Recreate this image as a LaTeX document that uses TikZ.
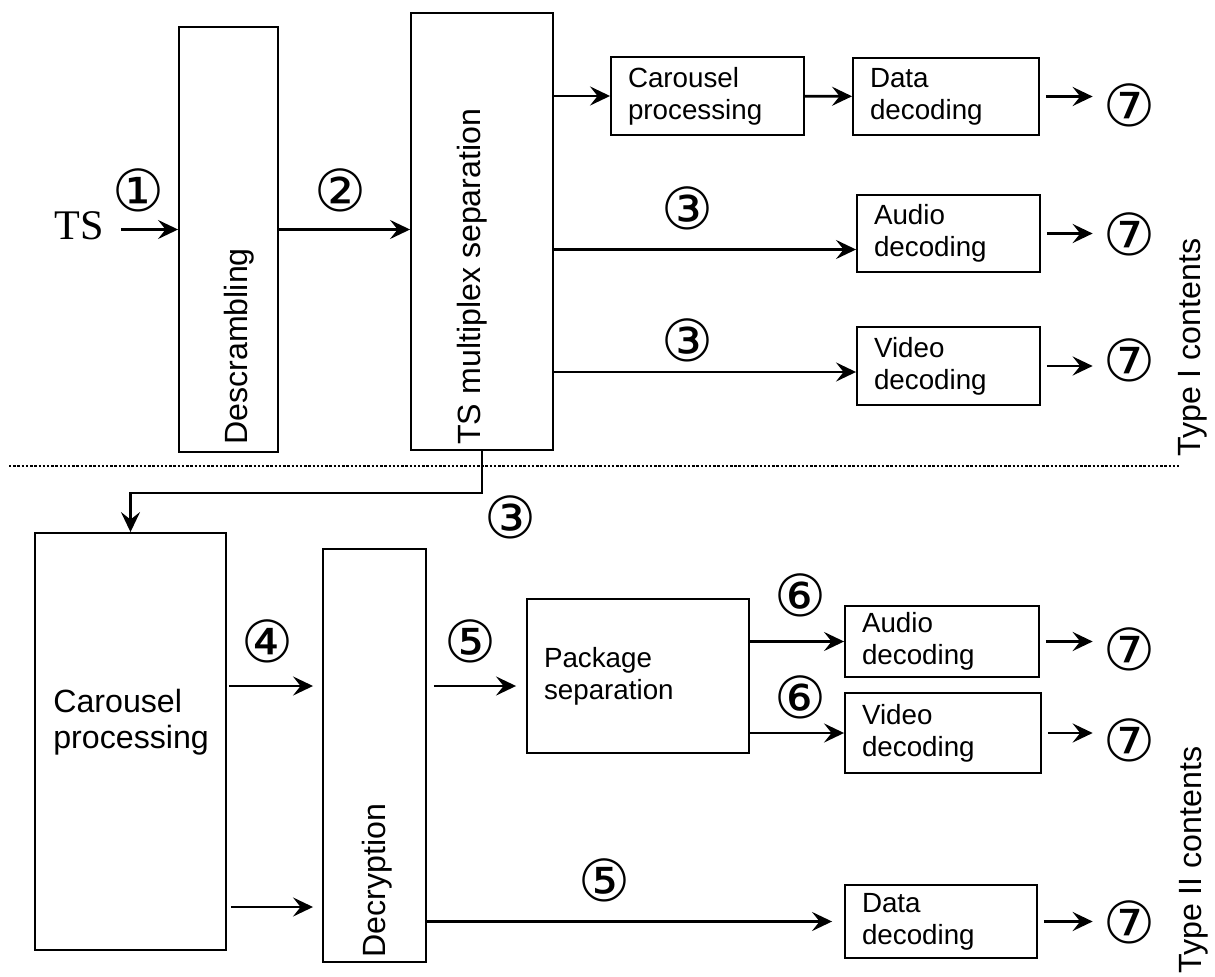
\documentclass[tikz,border=0pt]{standalone}
\usepackage{fontspec}
\setmainfont{Liberation Sans}
\newfontfamily\circfont{DejaVu Sans}
\newfontfamily\serifts{Liberation Serif}
\usetikzlibrary{positioning, arrows.meta, calc}

\begin{document}
\begin{tikzpicture}[
  x=0.02cm, y=-0.02cm,
  >={Stealth[length=4mm, width=3.8mm, inset=1.5mm]},
  dbox/.style={draw, line width=1.1pt, align=left, inner xsep=0.34cm, inner ysep=0pt,
               font=\fontsize{15.8}{18.2}\selectfont},
  tallbox/.style={draw, line width=1.1pt},
  vtext/.style={rotate=90, anchor=base west, inner sep=0pt,
                font=\fontsize{18.3}{20.5}\selectfont},
  num/.style={inner sep=0pt, font=\circfont\fontsize{33}{33}\selectfont},
  arr/.style={->, line width=1.5pt},
  toseven/.style={arr, shorten <=0.12cm, shorten >=0.2cm},
]
\useasboundingbox (0,0) rectangle (1215,977);
% ---- type I: TS input ----
\node[inner sep=0pt, font=\serifts\fontsize{24}{24}\selectfont] (ts) at (79,226) {TS};
\node[tallbox, minimum width=1.98cm, minimum height=8.5cm] (desc) at (228.5,239.5) {};
\node[vtext] (desctxt) at (247,445) {Descrambling};
\node[tallbox, minimum width=2.84cm, minimum height=8.74cm] (tsm) at (482,231.5) {};
\node[vtext] (tsmtxt) at (480,445) {TS multiplex separation};
\node[num] (c1) at (138,190) {①};
\node[num] (c2) at (340,190) {②};
\coordinate (r1) at ($(desc.west)+(0,-10)$);
\draw[arr, shorten <=0.34cm] (r1 -| ts.east) -- (r1);
\draw[arr] (r1 -| desc.east) -- (r1 -| tsm.west);
% ---- type I: outputs ----
\node[dbox, text width=3.18cm, minimum height=1.56cm] (car1) at (707.5,96) {Carousel\\processing};
\node[dbox, text width=3.04cm, minimum height=1.54cm] (data1) at (946,96.5) {Data\\decoding};
\node[dbox, text width=2.98cm, minimum height=1.54cm] (aud1) at (948.5,233.5) {Audio\\decoding};
\node[dbox, text width=2.98cm, minimum height=1.56cm] (vid1) at (948.5,366) {Video\\decoding};
\node[num] (c3a) at (687,208) {③};
\node[num] (c3b) at (687,340) {③};
\node[num] (c7a) at (1129,105) {⑦};
\node[num] (c7b) at (1129,234) {⑦};
\node[num] (c7c) at (1129,360) {⑦};
\coordinate (a1in) at ($(aud1.west)+(0,16)$);
\coordinate (v1in) at ($(vid1.west)+(0,6)$);
\draw[arr] (tsm.east |- car1.west) -- (car1.west);
\draw[arr] (car1) -- (data1);
\draw[arr] (a1in -| tsm.east) -- (a1in);
\draw[arr] (v1in -| tsm.east) -- (v1in);
\draw[toseven] (data1.east) -- (data1.east -| c7a.west);
\draw[toseven] (aud1.east) -- (aud1.east -| c7b.west);
\draw[toseven] (vid1.east) -- (vid1.east -| c7c.west);
\node[vtext] (type1) at (1200,457) {Type I contents};
% ---- separator ----
\draw[line width=1.6pt, dash pattern=on 1.4pt off 1pt] (9,466) -- (1180,466);
% ---- type II ----
\node[tallbox, minimum width=3.82cm, minimum height=8.34cm] (car2) at (130.5,741.5) {};
\node[anchor=west, align=left, inner sep=0pt, font=\fontsize{18.3}{20.5}\selectfont]
  (car2txt) at (53,722) {Carousel\\processing};
\node[tallbox, minimum width=2.06cm, minimum height=8.26cm] (dec) at (374.5,755.5) {};
\node[vtext] (dectxt) at (385,958) {Decryption};
\node[dbox, text width=3.76cm, minimum height=3.08cm] (pkg) at (638,676) {Package\\separation};
\node[dbox, text width=3.2cm, minimum height=1.42cm] (aud2) at (942,641.5) {Audio\\decoding};
\node[dbox, text width=3.24cm, minimum height=1.6cm] (vid2) at (943,733) {Video\\decoding};
\node[dbox, text width=3.16cm, minimum height=1.46cm] (data2) at (941,921.5) {Data\\decoding};
\node[num] (c3c) at (510,517) {③};
\node[num] (c4) at (267,641) {④};
\node[num] (c5a) at (470,641) {⑤};
\node[num] (c6a) at (800,595) {⑥};
\node[num] (c6b) at (800,697) {⑥};
\node[num] (c5b) at (604,880) {⑤};
\node[num] (c7d) at (1129,649) {⑦};
\node[num] (c7e) at (1129,740) {⑦};
\node[num] (c7f) at (1129,922) {⑦};
\coordinate (r4) at ($(dec.west)+(0,-69.5)$);
\coordinate (r4b) at ($(dec.west)+(0,151.5)$);
\draw[arr] (tsm.south) -- ++(0,42) -| (car2.north);
\draw[arr, shorten <=0.04cm, shorten >=0.18cm] (r4 -| car2.east) -- (r4);
\draw[arr, shorten <=0.08cm, shorten >=0.18cm] (r4b -| car2.east) -- (r4b);
\draw[arr, shorten <=0.14cm, shorten >=0.2cm] (r4 -| dec.east) -- (r4 -| pkg.west);
\draw[arr] (pkg.east |- aud2.west) -- (aud2.west);
\draw[arr] (pkg.east |- vid2.west) -- (vid2.west);
\draw[arr, shorten >=0.24cm] (dec.east |- data2.west) -- (data2.west);
\draw[toseven] (aud2.east) -- (aud2.east -| c7d.west);
\draw[toseven] (vid2.east) -- (vid2.east -| c7e.west);
\draw[toseven] (data2.east) -- (data2.east -| c7f.west);
\node[vtext] (type2) at (1201,974) {Type II contents};
\end{tikzpicture}
\end{document}
